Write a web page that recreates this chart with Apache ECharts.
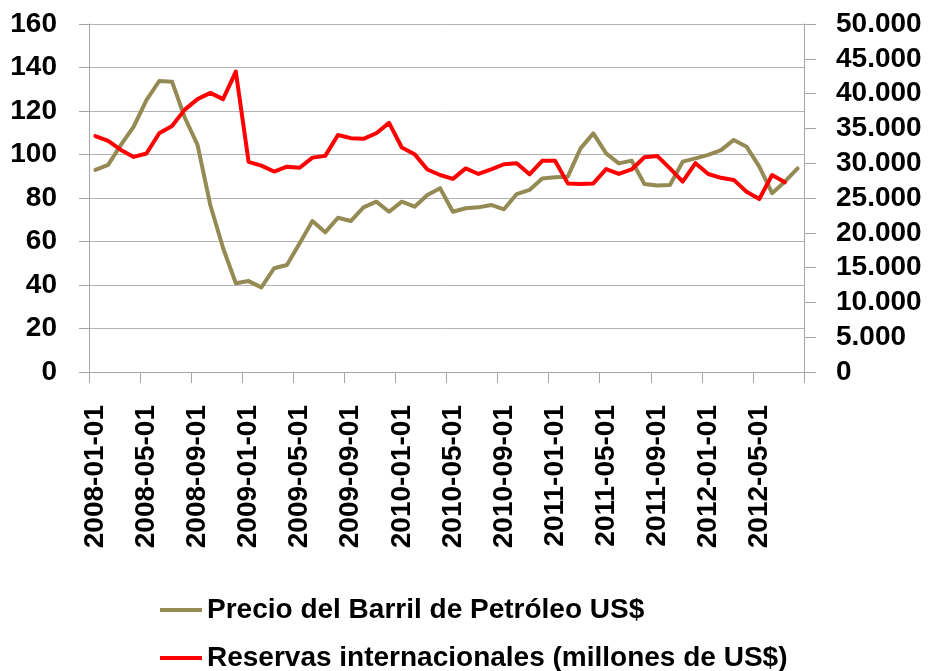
<!DOCTYPE html>
<html>
<head>
<meta charset="utf-8">
<script src="https://cdn.jsdelivr.net/npm/echarts@6/dist/echarts.min.js"></script>
<style>
html,body{margin:0;padding:0;background:#fff;}
#chart{width:931px;height:671px;}
</style>
</head>
<body>
<div id="chart"></div>
<script>
var categories = [
 '2008-01-01','2008-02-01','2008-03-01','2008-04-01','2008-05-01','2008-06-01','2008-07-01','2008-08-01','2008-09-01','2008-10-01','2008-11-01','2008-12-01',
 '2009-01-01','2009-02-01','2009-03-01','2009-04-01','2009-05-01','2009-06-01','2009-07-01','2009-08-01','2009-09-01','2009-10-01','2009-11-01','2009-12-01',
 '2010-01-01','2010-02-01','2010-03-01','2010-04-01','2010-05-01','2010-06-01','2010-07-01','2010-08-01','2010-09-01','2010-10-01','2010-11-01','2010-12-01',
 '2011-01-01','2011-02-01','2011-03-01','2011-04-01','2011-05-01','2011-06-01','2011-07-01','2011-08-01','2011-09-01','2011-10-01','2011-11-01','2011-12-01',
 '2012-01-01','2012-02-01','2012-03-01','2012-04-01','2012-05-01','2012-06-01','2012-07-01','2012-08-01'
];
var precio = [
 92.9, 95.2, 104.4, 112.8, 125.0, 133.8, 133.5, 117.0, 104.4, 76.8, 57.0, 40.8,
 41.8, 38.9, 47.7, 49.2, 59.2, 69.4, 64.2, 70.9, 69.4, 75.7, 78.3, 73.7,
 78.3, 76.0, 81.4, 84.5, 73.7, 75.3, 75.7, 76.8, 74.8, 81.8, 83.7, 89.0,
 89.5, 89.8, 102.8, 109.7, 100.5, 95.9, 97.2, 86.4, 85.7, 86.0, 96.7, 98.2,
 99.8, 102.0, 106.7, 103.6, 94.4, 82.2, 87.5, 93.6
];
var reservas = [
 33900, 33200, 31900, 30900, 31400, 34300, 35350, 37700, 39200, 40100, 39200, 43150,
 30200, 29650, 28800, 29500, 29350, 30800, 31050, 34050, 33600, 33500, 34300, 35800,
 32250, 31300, 29100, 28300, 27750, 29250, 28450, 29100, 29850, 30000, 28400, 30350,
 30350, 27100, 27000, 27100, 29150, 28450, 29100, 30850, 31050, 29250, 27350, 30000,
 28450, 27900, 27600, 25900, 24850, 28300, 27250
];
var seriesNames = ['Precio del Barril de Petróleo US$', 'Reservas internacionales (millones de US$)'];

var FONT = '"Liberation Sans", Arial, sans-serif';
var chart = echarts.init(document.getElementById('chart'), null, {renderer:'canvas'});
function fmtThousands(v){
  return String(v).replace(/\B(?=(\d{3})+(?!\d))/g, '.');
}
var legendText = {fontFamily:FONT, fontWeight:'bold', fontSize:28, color:'#000', lineHeight:28};
chart.setOption({
  animation:false,
  backgroundColor:'#ffffff',
  grid:{left:89, right:127, top:24, bottom:299, containLabel:false},
  legend:[
    {orient:'horizontal', left:155, top:591, itemWidth:42, itemHeight:4, icon:'rect',
     textStyle:legendText, data:[seriesNames[0]]},
    {orient:'horizontal', left:155, top:639, itemWidth:42, itemHeight:4, icon:'rect',
     textStyle:legendText, data:[seriesNames[1]]}
  ],
  xAxis:{
    type:'category', data:categories, boundaryGap:true,
    axisLine:{show:true, lineStyle:{color:'#a6a6a6', width:1}},
    axisTick:{show:true, interval:3, length:11, lineStyle:{color:'#a6a6a6'}},
    axisLabel:{interval:3, rotate:90, margin:33, fontFamily:FONT, fontWeight:'bold', fontSize:28, color:'#000'},
    splitLine:{show:false}
  },
  yAxis:[
    {type:'value', min:0, max:160, interval:20, position:'left',
     axisLine:{show:true, lineStyle:{color:'#a6a6a6'}},
     axisTick:{show:true, length:10, lineStyle:{color:'#a6a6a6'}},
     axisLabel:{margin:32, fontFamily:FONT, fontWeight:'bold', fontSize:28, color:'#000'},
     splitLine:{show:true, lineStyle:{color:'#b3b3b3', width:1}}},
    {type:'value', min:0, max:50000, interval:5000, position:'right',
     axisLine:{show:true, lineStyle:{color:'#a6a6a6'}},
     axisTick:{show:true, length:12, lineStyle:{color:'#a6a6a6'}},
     axisLabel:{margin:32, fontFamily:FONT, fontWeight:'bold', fontSize:28, color:'#000', formatter:fmtThousands},
     splitLine:{show:false}}
  ],
  series:[
    {name:seriesNames[0], type:'line', yAxisIndex:0, data:precio, showSymbol:false, symbol:'none',
     lineStyle:{color:'#948a54', width:4, cap:'round', join:'round'}, itemStyle:{color:'#948a54'}},
    {name:seriesNames[1], type:'line', yAxisIndex:1, data:reservas, showSymbol:false, symbol:'none',
     lineStyle:{color:'#ff0000', width:4, cap:'round', join:'round'}, itemStyle:{color:'#ff0000'}}
  ]
});
</script>
</body>
</html>
